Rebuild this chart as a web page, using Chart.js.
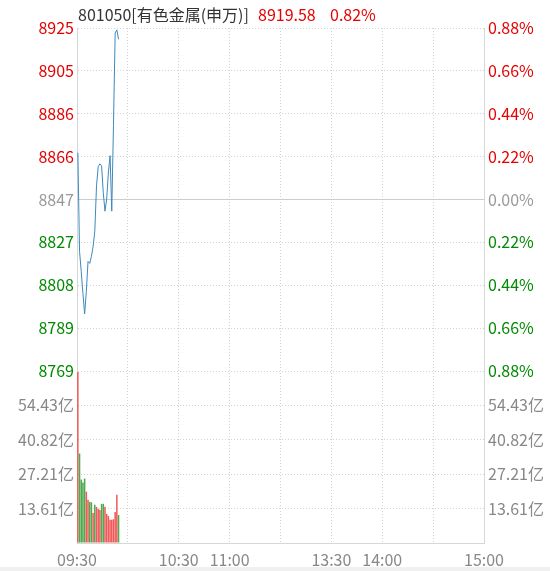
<!DOCTYPE html>
<html><head><meta charset="utf-8">
<script src="https://cdn.jsdelivr.net/npm/chart.js@4.4.0/dist/chart.umd.min.js"></script>
<style>
html,body{margin:0;padding:0;background:#fff;}
#wrap{position:relative;width:550px;height:571px;overflow:hidden;background:#fff;}
#c{position:absolute;left:0;top:0;}
#hdr{position:absolute;left:78px;top:3px;font-family:"Noto Sans CJK SC",sans-serif;font-size:16px;white-space:nowrap;line-height:22px;width:400px;height:22px;}
#hdr span{position:absolute;top:0;}
#strip{position:absolute;left:0;top:567px;width:550px;height:4px;background:#f0f0f0;}
</style></head><body>
<div id="wrap"><canvas id="c" width="550" height="571"></canvas>
<div id="hdr"><span id="hName" style="left:0;color:#333"></span><span id="hPrice" style="left:180px;color:#e60000"></span><span id="hPct" style="left:252px;color:#e60000"></span></div>
<div id="strip"></div></div>
<script>
// ---- data ----
const stockCode = '801050';
const stockName = '有色金属(申万)';
const prevClose = 8846.9;
const priceTickLabels = ['8769','8789','8808','8827','8847','8866','8886','8905','8925'];
const pctTickLabels = ['0.88%','0.66%','0.44%','0.22%','0.00%','0.22%','0.44%','0.66%','0.88%'];
const pctTickValues = [-0.88,-0.66,-0.44,-0.22,0,0.22,0.44,0.66,0.88];
const volTickValues = [0, 13.608, 27.216, 40.824, 54.432, 68.04];
const volTickLabels = ['', '13.61亿', '27.21亿', '40.82亿', '54.43亿', ''];
const timeTickValues = [0,30,60,90,120,150,180,210,240];
const timeLabels = ['09:30','','10:30','11:00','','13:30','14:00','','15:00'];
const priceData = [8868.1, 8823.4, 8814.2, 8804.2, 8795.0, 8805.1, 8818.8, 8817.9, 8821.1, 8825.6,
                   8832.5, 8853.1, 8861.8, 8863.1, 8862.2, 8849.9, 8841.6, 8847.1, 8859.0, 8866.8,
                   8841.6, 8880.5, 8922.5, 8923.9, 8919.58];
const volumeData = [67.6, 35.4, 25.1, 23.9, 25.5, 20.3, 17.1, 16.3, 16.1, 11.9,
                    15.1, 14.3, 13.5, 13.1, 15.5, 15.5, 14.3, 11.5, 10.7, 9.2,
                    9.2, 9.4, 12.3, 19.1, 11.1];
const volumeDir = ['up','down','down','down','down','up','up','down','down','up',
                   'down','up','up','up','down','down','up','up','up','up',
                   'up','up','up','up','down'];

// ---- header ----
const last = priceData[priceData.length-1];
document.getElementById('hName').textContent = stockCode + '[' + stockName + ']';
document.getElementById('hPrice').textContent = last.toFixed(2);
document.getElementById('hPct').textContent = ((last/prevClose-1)*100).toFixed(2) + '%';

// ---- styles ----
const RED = '#e60000', GREEN = '#008a00', GRAY = '#999999', LGRAY = '#888888';
const GRID = '#d2d2d2', BORDER = '#d6d6d6';
const font = {family: '"Noto Sans CJK SC", sans-serif', size: 16};
const DASH = [1, 2];
const priceTickValues = pctTickValues.map(p => prevClose * (1 + p/100));
const tickColor = ctx => ctx.index < 4 ? GREEN : (ctx.index === 4 ? GRAY : RED);

const zeroLine = {
  id: 'zeroLine',
  beforeDatasetsDraw(chart) {
    const y = Math.round(chart.scales.yPrice.getPixelForValue(prevClose)) + 0.5;
    const a = chart.chartArea, ctx = chart.ctx;
    ctx.save();
    ctx.strokeStyle = '#cccccc'; ctx.lineWidth = 1;
    ctx.beginPath(); ctx.moveTo(a.left, y); ctx.lineTo(a.right, y); ctx.stroke();
    ctx.restore();
  }
};

new Chart(document.getElementById('c'), {
  type: 'bar',
  data: {
    datasets: [
      {
        type: 'line',
        data: priceData.map((p, i) => ({x: i + 0.5, y: p})),
        xAxisID: 'x', yAxisID: 'yPrice',
        borderColor: '#3d89bd', borderWidth: 1, pointRadius: 0, tension: 0, fill: false
      },
      {
        type: 'bar',
        data: volumeData.map((v, i) => ({x: i + 0.5, y: v})),
        xAxisID: 'x', yAxisID: 'yVol',
        backgroundColor: volumeDir.map(d => d === 'up' ? '#f05a5a' : '#4daa4d'),
        borderWidth: 0, barPercentage: 0.9, categoryPercentage: 1
      }
    ]
  },
  options: {
    responsive: false, animation: false,
    layout: {padding: {top: 28, left: 0, right: 0, bottom: 0}},
    plugins: {legend: {display: false}, tooltip: {enabled: false}},
    scales: {
      x: {
        type: 'linear', position: 'bottom', min: 0, max: 240, offset: false,
        afterBuildTicks: s => { s.ticks = timeTickValues.map(v => ({value: v})); },
        ticks: {autoSkip: false, maxRotation: 0, minRotation: 0, padding: 7, color: LGRAY, font,
                callback: (v, i) => timeLabels[i]},
        grid: {color: GRID, lineWidth: 1, drawTicks: false, offset: false},
        border: {display: true, color: BORDER, dash: DASH},
        afterFit: s => { s.height = 28; }
      },
      yVol: {
        type: 'linear', position: 'left', stack: 'L', stackWeight: 172,
        min: 0, max: 68.04,
        afterBuildTicks: s => { s.ticks = volTickValues.map(v => ({value: v})); },
        ticks: {autoSkip: false, color: LGRAY, padding: 3, font, callback: (v, i) => volTickLabels[i]},
        grid: {color: GRID, drawTicks: false},
        border: {display: true, color: BORDER, dash: DASH},
        afterFit: s => { s.width = 77; }
      },
      yPrice: {
        type: 'linear', position: 'left', stack: 'L', stackWeight: 343,
        min: priceTickValues[0], max: priceTickValues[8],
        afterBuildTicks: s => { s.ticks = priceTickValues.map(v => ({value: v})); },
        ticks: {autoSkip: false, color: tickColor, padding: 3, font, callback: (v, i) => priceTickLabels[i]},
        grid: {color: c => c.index === 4 ? 'rgba(0,0,0,0)' : GRID, drawTicks: false},
        border: {display: true, color: BORDER, dash: DASH},
        afterFit: s => { s.width = 77; }
      },
      yPct: {
        type: 'linear', position: 'right', stack: 'R', stackWeight: 343,
        min: -0.88, max: 0.88,
        afterBuildTicks: s => { s.ticks = pctTickValues.map(v => ({value: v})); },
        ticks: {autoSkip: false, color: tickColor, padding: 4, font, callback: (v, i) => pctTickLabels[i]},
        grid: {display: false, drawTicks: false},
        border: {display: true, color: BORDER},
        afterFit: s => { s.width = 66; }
      },
      yVolR: {
        type: 'linear', position: 'right', stack: 'R', stackWeight: 172,
        min: 0, max: 68.04,
        afterBuildTicks: s => { s.ticks = volTickValues.map(v => ({value: v})); },
        ticks: {autoSkip: false, color: LGRAY, padding: 4, font, callback: (v, i) => volTickLabels[i]},
        grid: {display: false, drawTicks: false},
        border: {display: true, color: BORDER},
        afterFit: s => { s.width = 66; }
      }
    }
  },
  plugins: [zeroLine]
});
</script>
</body></html>
